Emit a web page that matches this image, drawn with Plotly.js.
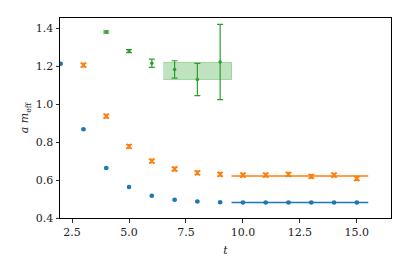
<!DOCTYPE html>
<html>
<head>
<meta charset="utf-8">
<script src="https://cdn.plot.ly/plotly-3.0.1.min.js"></script>
<style>html,body{margin:0;padding:0;background:#fff;}#chart{width:409px;height:273px;}</style>
</head>
<body>
<div id="chart"></div>
<script>
// Data
const blueT = [2, 3, 4, 5, 6, 7, 8, 9, 10, 11, 12, 13, 14, 15];
const blueM = [1.212, 0.867, 0.663, 0.563, 0.517, 0.496, 0.487, 0.483, 0.482, 0.482, 0.482, 0.482, 0.482, 0.482];
const blueErr = [0.004, 0.004, 0.004, 0.004, 0.004, 0.004, 0.004, 0.004, 0.004, 0.004, 0.004, 0.004, 0.004, 0.004];

const orangeT = [3, 4, 5, 6, 7, 8, 9, 10, 11, 12, 13, 14, 15];
const orangeM = [1.205, 0.936, 0.777, 0.700, 0.658, 0.638, 0.630, 0.626, 0.626, 0.630, 0.619, 0.626, 0.608];
const orangeErr = [0.01, 0.01, 0.01, 0.01, 0.01, 0.01, 0.01, 0.01, 0.01, 0.01, 0.01, 0.01, 0.01];

const greenT = [4, 5, 6, 7, 8, 9];
const greenM = [1.379, 1.279, 1.215, 1.182, 1.129, 1.221];
const greenErr = [0.006, 0.008, 0.022, 0.046, 0.085, 0.198];

// Fit results (plateau ranges and values)
const blueFitT = [9.5, 15.5];
const blueFitM = [0.482, 0.482];
const orangeFitT = [9.5, 15.5];
const orangeFitM = [0.621, 0.621];
const greenFitT = [6.5, 9.5];
const greenFitLow = [1.129, 1.129];
const greenFitHigh = [1.219, 1.219];

const blue = '#1f77b4', orange = '#ff7f0e', green = '#2ca02c';

const traces = [
  {x: blueFitT, y: blueFitM, mode: 'lines', line: {color: blue, width: 1.5}, hoverinfo: 'skip'},
  {x: orangeFitT, y: orangeFitM, mode: 'lines', line: {color: orange, width: 1.5}, hoverinfo: 'skip'},
  {x: greenFitT.concat(greenFitT.slice().reverse()),
   y: greenFitHigh.concat(greenFitLow.slice().reverse()),
   mode: 'lines', fill: 'toself', fillcolor: 'rgba(44,160,44,0.3)',
   line: {color: 'rgba(44,160,44,0.35)', width: 1}, hoverinfo: 'skip'},
  {x: blueT, y: blueM, mode: 'markers', marker: {color: blue, size: 4.5, symbol: 'circle'},
   error_y: {type: 'data', array: blueErr, color: blue, thickness: 1, width: 2}},
  {x: orangeT, y: orangeM, mode: 'markers', marker: {color: orange, size: 5, symbol: 'x-thin', line: {color: orange, width: 1.8}},
   error_y: {type: 'data', array: orangeErr, color: orange, thickness: 1, width: 3}},
  {x: greenT, y: greenM, mode: 'markers', marker: {color: green, size: 3.5, symbol: 'circle'},
   error_y: {type: 'data', array: greenErr, color: green, thickness: 1.2, width: 3}}
];

const fontFam = 'DejaVu Serif, serif';
const layout = {
  width: 409, height: 273,
  margin: {l: 60, r: 18, t: 18, b: 55},
  paper_bgcolor: '#fff', plot_bgcolor: '#fff',
  showlegend: false,
  font: {family: fontFam, size: 11, color: '#222'},
  xaxis: {
    range: [1.97, 16.5],
    tickvals: [2.5, 5, 7.5, 10, 12.5, 15],
    ticktext: ['2.5', '5.0', '7.5', '10.0', '12.5', '15.0'],
    ticks: 'outside', ticklen: 3.5, tickwidth: 0.8, tickcolor: '#000',
    showgrid: false, zeroline: false,
    showline: true, linecolor: '#000', linewidth: 1, mirror: true,
    title: {text: '<i>t</i>', font: {family: fontFam, size: 11}, standoff: 8}
  },
  yaxis: {
    range: [0.4, 1.453],
    tickvals: [0.4, 0.6, 0.8, 1.0, 1.2, 1.4],
    ticktext: ['0.4', '0.6', '0.8', '1.0', '1.2', '1.4'],
    ticks: 'outside', ticklen: 3.5, tickwidth: 0.8, tickcolor: '#000',
    showgrid: false, zeroline: false,
    showline: true, linecolor: '#000', linewidth: 1, mirror: true,
    title: {text: '<i>a m</i><sub>eff</sub>', font: {family: fontFam, size: 11}, standoff: 4}
  }
};

Plotly.newPlot('chart', traces, layout, {staticPlot: true, displayModeBar: false});
</script>
</body>
</html>
